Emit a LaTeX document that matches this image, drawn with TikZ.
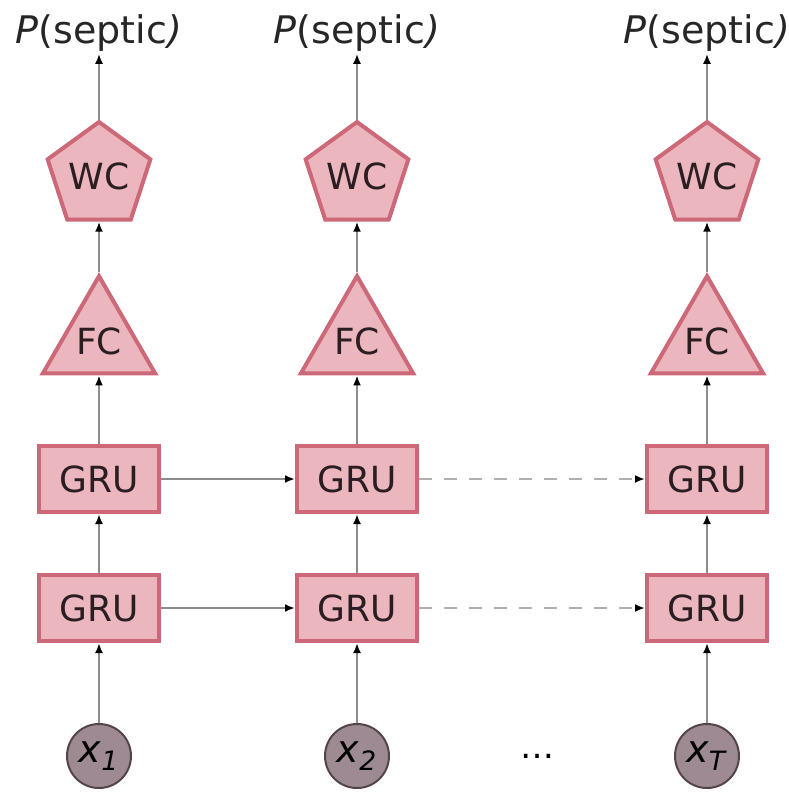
\documentclass[tikz,border=0pt]{standalone}
\usepackage{fontspec}
\setmainfont{DejaVu Sans}
\usetikzlibrary{arrows.meta,shapes.geometric}
\definecolor{cellfill}{HTML}{EBB6BE}
\definecolor{celldraw}{HTML}{CD6878}
\definecolor{celltext}{HTML}{2B1E22}
\definecolor{inputfill}{HTML}{9E8A92}
\definecolor{inputdraw}{HTML}{54454A}
\definecolor{linkgray}{HTML}{8C8C8C}
\definecolor{dashgray}{HTML}{B0B0B0}
\newlength{\CellWidth}
\newlength{\CellHeight}
\setlength{\CellWidth}{60pt}
\setlength{\CellHeight}{33pt}
\tikzset{
  cell/.style={draw=celldraw, fill=cellfill, line width=2pt, text=celltext, font=\fontsize{18}{20}\selectfont},
  gru node/.style={cell, rectangle, minimum width=\CellWidth, minimum height=\CellHeight, inner sep=0pt},
  fc node/.style={cell, regular polygon, regular polygon sides=3, minimum size=64pt, inner sep=0pt},
  wc node/.style={cell, regular polygon, regular polygon sides=5, minimum size=54pt, inner sep=0pt},
  input node/.style={draw=inputdraw, fill=inputfill, circle, line width=1pt, minimum size=32pt, inner sep=0pt, font=\fontsize{19}{21}\selectfont},
  out node/.style={inner sep=1pt, text=black!85, font=\fontsize{19}{21}\selectfont},
  link/.style={draw=linkgray, line width=1pt, -{Latex[length=5pt,width=4pt,color=black]}},
  link dashed/.style={link, draw=dashgray, dash pattern=on 6.5pt off 6pt},
}

\begin{document}
\begin{tikzpicture}[x=0.5pt, y=-0.5pt]
  \useasboundingbox (0,0) rectangle (788,793);

  \foreach \c/\x/\s in {1/99/1, 2/357/2, 3/707/T} {
    \node[out node] (out\c) at (\x,33) {\textit{P}(septic\textit{)}};
    \node[wc node] (wc\c) at (\x,176) {WC};
    \node[fc node] (fc\c) at (\x,341) {FC};
    \node[gru node] (grub\c) at (\x,479) {GRU};
    \node[gru node] (grua\c) at (\x,608) {GRU};
    \node[input node] (x\c) at (\x,756) {\textit{x}\textsubscript{\textit{\s}}};

    \draw[link] (x\c) -- (grua\c);
    \draw[link] (grua\c) -- (grub\c);
    \draw[link] (grub\c) -- (fc\c.side 2);
    \draw[link] (fc\c.corner 1) -- (wc\c.side 3);
    \draw[link] (wc\c.corner 1) -- (out\c);
  }

  % recurrent links
  \draw[link] (grua1) -- (grua2);
  \draw[link] (grub1) -- (grub2);
  \draw[link dashed] (grua2) -- (grua3);
  \draw[link dashed] (grub2) -- (grub3);

  \node[font=\fontsize{17}{19}\selectfont] (dots) at (537,756) {\dots};
\end{tikzpicture}
\end{document}
